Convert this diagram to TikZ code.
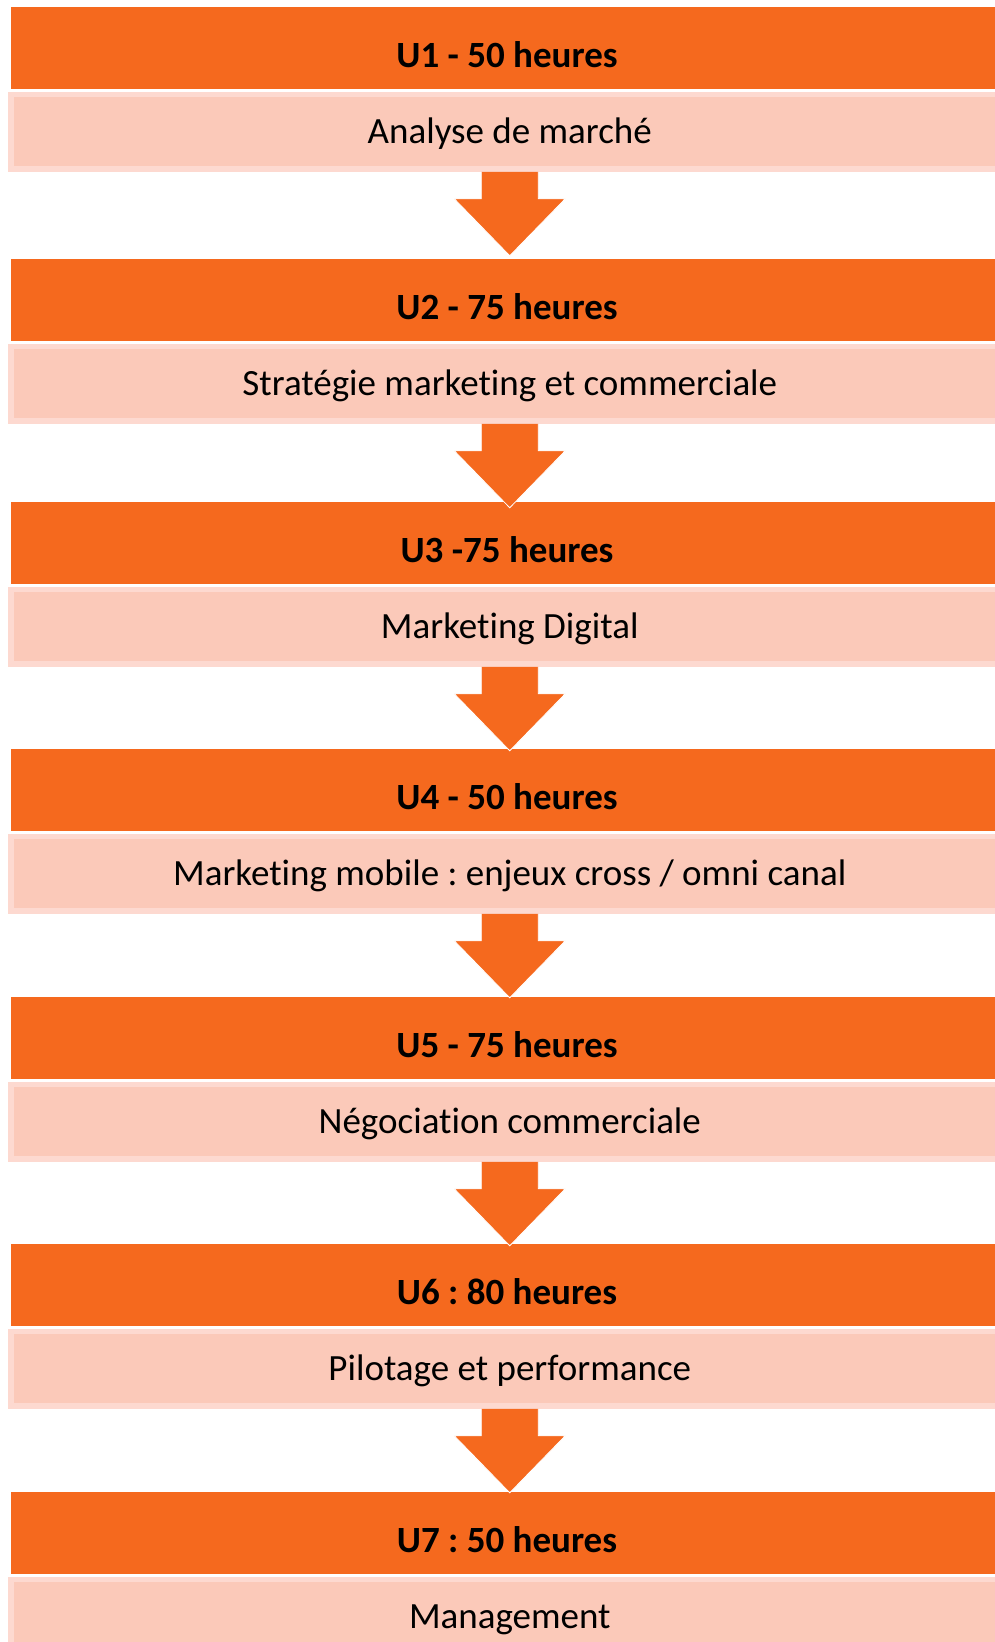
\documentclass[tikz,border=0pt]{standalone}
\usepackage{fontspec}
\setmainfont{Carlito}[Ligatures={NoCommon}]
\usetikzlibrary{calc}
\definecolor{orangehead}{RGB}{245,105,30}
\definecolor{pinkbody}{RGB}{251,201,185}
\definecolor{pinkedge}{RGB}{253,217,208}
\tikzset{
  headbox/.style={rectangle, fill=orangehead, draw=none, inner sep=0pt, outer sep=0pt,
    minimum width=992pt, minimum height=82pt, anchor=north west,
    font=\fontsize{37}{44}\selectfont\bfseries, text height=38pt, text depth=0pt},
  bodybox/.style={rectangle, fill=pinkbody, draw=pinkedge, line width=5.5pt, inner sep=0pt,
    minimum width=998pt, minimum height=74.5pt, anchor=north west,
    font=\fontsize{37}{44}\selectfont, text height=24pt, text depth=0pt},
  flowarrow/.style={fill=orangehead, draw=white, line width=0.8pt, line join=miter}
}
\newcommand{\downarrowshape}[1]{%
  \filldraw[flowarrow] ($(#1.south)+(-28.5,0)$) -- ($(#1.south)+(-28.5,27)$)
    -- ($(#1.south)+(-55.5,27)$) -- ($(#1.south)+(0,84)$)
    -- ($(#1.south)+(55.5,27)$) -- ($(#1.south)+(28.5,27)$)
    -- ($(#1.south)+(28.5,0)$);}
\begin{document}
\frenchspacing
\begin{tikzpicture}[x=1pt,y=-1pt]
\useasboundingbox (0,0) rectangle (995,1642);
\clip (0,0) rectangle (995,1642);
\fill[white] (0,0) rectangle (995,1642);

\node[headbox] (h1) at (11,7) {U1 - 50 heures};
\node[bodybox] (b1) at (8,91.75) {Analyse de marché};

\node[headbox] (h2) at (11,259) {U2 - 75 heures};
\node[bodybox] (b2) at (8,343.75) {Stratégie marketing et commerciale};

\node[headbox] (h3) at (11,502) {U3 -75 heures};
\node[bodybox] (b3) at (8,586.75) {Marketing Digital};

\node[headbox] (h4) at (11,749) {U4 - 50 heures};
\node[bodybox] (b4) at (8,833.75) {Marketing mobile : enjeux cross / omni canal};

\node[headbox] (h5) at (11,997) {U5 - 75 heures};
\node[bodybox] (b5) at (8,1081.75) {Négociation commerciale};

\node[headbox] (h6) at (11,1244) {U6 : 80 heures};
\node[bodybox] (b6) at (8,1328.75) {Pilotage et performance};

\node[headbox] (h7) at (11,1492) {U7 : 50 heures};
\node[bodybox] (b7) at (8,1576.75) {Management};

\downarrowshape{b1}
\downarrowshape{b2}
\downarrowshape{b3}
\downarrowshape{b4}
\downarrowshape{b5}
\downarrowshape{b6}
\end{tikzpicture}
\end{document}
